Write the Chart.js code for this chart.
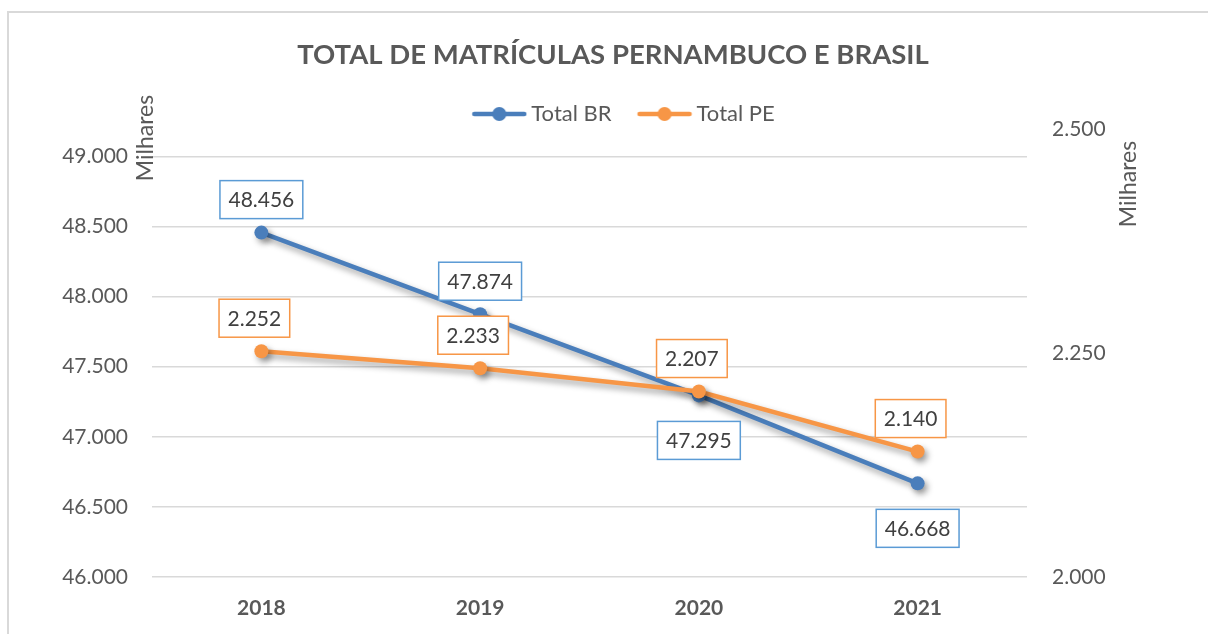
<!DOCTYPE html>
<html>
<head>
<meta charset="utf-8">
<script src="https://cdn.jsdelivr.net/npm/chart.js@4"></script>
<style>
  body { margin: 0; background: #fff; overflow: hidden; }
  #moldura { position: absolute; left: 7px; top: 11px; width: 1300px; height: 700px; border: 2px solid #d9d9d9; }
  #caixa { position: absolute; left: 0; top: 0; width: 1208px; height: 634px; }
</style>
</head>
<body>
<div id="moldura"></div>
<div id="caixa"><canvas id="myChart"></canvas></div>
<script>
// dados (em milhares)
const anos = ['2018', '2019', '2020', '2021'];
const totalBR = [48456, 47874, 47295, 46668];
const totalPE = [2252, 2233, 2207, 2140];
// onde fica cada rotulo do BR (acima / abaixo do ponto)
const posicaoBR = ['above', 'above', 'below', 'below'];
// marcas dos eixos
const ticksBR = [46000, 46500, 47000, 47500, 48000, 48500, 49000];
const ticksPE = [2000, 2250, 2500];

const corBR = '#4a7ebb';
const corPE = '#f79646';
const fonte = 'Lato, "Open Sans", sans-serif';

// 48456 -> "48.456"
function formata(v) {
    return String(Math.round(v)).replace(/\B(?=(\d{3})+(?!\d))/g, '.');
}

// icone da legenda: linha com bolinha, encostado na direita do canvas
function iconeLegenda(cor) {
    const c = document.createElement('canvas');
    c.width = 83;
    c.height = 16;
    const ctx = c.getContext('2d');
    const x0 = 83 - 56;
    ctx.strokeStyle = cor;
    ctx.lineWidth = 4.5;
    ctx.lineCap = 'round';
    ctx.beginPath();
    ctx.moveTo(x0 + 3, 8);
    ctx.lineTo(x0 + 53, 8);
    ctx.stroke();
    ctx.fillStyle = cor;
    ctx.beginPath();
    ctx.arc(x0 + 28, 8, 7, 0, Math.PI * 2);
    ctx.fill();
    return c;
}

// sombra das linhas
const sombra = {
    id: 'sombra',
    beforeDatasetDraw(chart) {
        const ctx = chart.ctx;
        ctx.save();
        ctx.shadowColor = 'rgba(0,0,0,0.38)';
        ctx.shadowBlur = 6;
        ctx.shadowOffsetX = 3;
        ctx.shadowOffsetY = 4;
    },
    afterDatasetDraw(chart) {
        chart.ctx.restore();
    }
};

// rotulos com caixinha + titulos "Milhares"
const rotulos = {
    id: 'rotulos',
    afterDatasetsDraw(chart) {
        const ctx = chart.ctx;
        ctx.save();
        ctx.font = '21px ' + fonte;
        ctx.textAlign = 'center';
        ctx.textBaseline = 'middle';
        chart.data.datasets.forEach((ds, i) => {
            const meta = chart.getDatasetMeta(i);
            meta.data.forEach((pt, j) => {
                const txt = formata(ds.data[j]);
                const w = ctx.measureText(txt).width + 17;
                const h = 38;
                const pos = ds.posicoes ? ds.posicoes[j] : 'above';
                const cx = pt.x + ds.deslocX;
                const cy = pos === 'above' ? pt.y - 33 : pt.y + 45;
                ctx.fillStyle = '#fff';
                ctx.fillRect(cx - w / 2, cy - h / 2, w, h);
                ctx.strokeStyle = ds.corCaixa;
                ctx.lineWidth = 1.5;
                ctx.strokeRect(cx - w / 2, cy - h / 2, w, h);
                ctx.fillStyle = '#404040';
                ctx.fillText(txt, cx, cy + 1);
            });
        });
        ctx.restore();

        ctx.save();
        ctx.font = '23px ' + fonte;
        ctx.textAlign = 'center';
        ctx.textBaseline = 'middle';
        ctx.fillStyle = '#595959';
        ctx.translate(146, 138);
        ctx.rotate(-Math.PI / 2);
        ctx.fillText('Milhares', 0, 0);
        ctx.restore();

        ctx.save();
        ctx.font = '23px ' + fonte;
        ctx.textAlign = 'center';
        ctx.textBaseline = 'middle';
        ctx.fillStyle = '#595959';
        ctx.translate(1129, 184);
        ctx.rotate(-Math.PI / 2);
        ctx.fillText('Milhares', 0, 0);
        ctx.restore();
    }
};

const config = {
    type: 'line',
    data: {
        labels: anos,
        datasets: [
            {
                label: 'Total BR',
                data: totalBR,
                yAxisID: 'y',
                borderColor: corBR,
                backgroundColor: corBR,
                borderWidth: 4.5,
                pointRadius: 7,
                pointHoverRadius: 7,
                pointBorderWidth: 0,
                order: 2,
                corCaixa: '#5b9bd5',
                deslocX: 0,
                posicoes: posicaoBR
            },
            {
                label: 'Total PE',
                data: totalPE,
                yAxisID: 'y1',
                borderColor: corPE,
                backgroundColor: corPE,
                borderWidth: 4.5,
                pointRadius: 7,
                pointHoverRadius: 7,
                pointBorderWidth: 0,
                order: 1,
                corCaixa: corPE,
                deslocX: -7
            }
        ]
    },
    options: {
        responsive: true,
        maintainAspectRatio: false,
        animation: false,
        layout: { padding: { top: 0, left: 18, right: 0, bottom: 0 } },
        plugins: {
            title: {
                display: true,
                text: 'TOTAL DE MATRÍCULAS PERNAMBUCO E BRASIL',
                color: '#595959',
                font: { family: fonte, size: 27.5, weight: 'bold' },
                padding: { top: 39, bottom: 26 }
            },
            legend: {
                display: true,
                maxHeight: 31,
                labels: {
                    color: '#595959',
                    font: { family: fonte, size: 22 },
                    usePointStyle: true,
                    pointStyleWidth: 69,
                    padding: 5,
                    generateLabels(chart) {
                        return chart.data.datasets.map((ds, i) => ({
                            text: ds.label,
                            fontColor: '#595959',
                            pointStyle: iconeLegenda(ds.borderColor),
                            datasetIndex: i,
                            hidden: false,
                            lineWidth: 0
                        }));
                    }
                }
            },
            tooltip: { enabled: false }
        },
        scales: {
            x: {
                offset: true,
                grid: { display: false, drawTicks: false },
                border: { display: false },
                ticks: {
                    color: '#595959',
                    font: { family: fonte, size: 21, weight: 'bold' },
                    padding: 19
                },
                afterFit(scale) { scale.height = 57; }
            },
            y: {
                position: 'left',
                min: 46000,
                max: 49195,
                grid: { color: '#d9d9d9', lineWidth: 1.5, drawTicks: false },
                border: { display: false },
                ticks: {
                    color: '#595959',
                    font: { family: fonte, size: 21 },
                    padding: 24,
                    callback: (v) => formata(v)
                },
                afterBuildTicks(scale) { scale.ticks = ticksBR.map((v) => ({ value: v })); },
                afterFit(scale) { scale.width = 152 - 18; }
            },
            y1: {
                position: 'right',
                min: 2000,
                max: 2500,
                grid: { display: false, drawTicks: false },
                border: { display: false },
                ticks: {
                    color: '#595959',
                    font: { family: fonte, size: 21 },
                    padding: 25,
                    callback: (v) => formata(v)
                },
                afterBuildTicks(scale) { scale.ticks = ticksPE.map((v) => ({ value: v })); },
                afterFit(scale) { scale.width = 1208 - 1027; }
            }
        }
    },
    plugins: [sombra, rotulos]
};

const chart = new Chart(document.getElementById('myChart'), config);
</script>
</body>
</html>
